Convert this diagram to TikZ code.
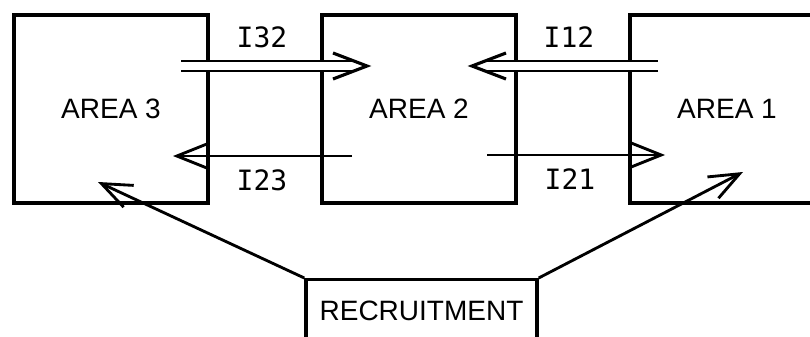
\documentclass[tikz,border=0pt]{standalone}
\usepackage{fontspec}
\setmainfont{Liberation Sans}
\newfontfamily\flowfont{DejaVu Sans Mono}
\usetikzlibrary{arrows.meta}

\begin{document}
\begin{tikzpicture}[x=0.5pt,y=-0.5pt,
		area/.style={draw, line width=0.6mm, minimum width=97pt, minimum height=94pt, inner sep=0pt, font=\fontsize{14}{16}\selectfont},
		flowlab/.style={font=\flowfont\fontsize{14}{16}\selectfont},
		single/.style={line width=0.5mm, -{Straight Barb[length=15pt,width=12pt,line width=0.5mm]}},
		twin/.style={double, line width=0.4mm, double distance=4pt, shorten >=7.5pt},
		twinhead/.style={line width=0.55mm, line join=miter}]
			%%%%% START %%%%%
			
			\useasboundingbox (0, 0) rectangle (810, 337);
			
			\node[area] (area3) at (111, 109) {AREA 3};
			\node[area] (area2) at (419, 109) {AREA 2};
			\node[area] (area1) at (727, 109) {AREA 1};
			
			\node[draw, line width=0.6mm, anchor=north, minimum width=115.5pt, inner xsep=0pt, inner ysep=10.5pt,
				text height=10pt, text depth=40pt, font=\fontsize{14}{16}\selectfont] (recruit) at (421.5, 278) {RECRUITMENT};
			
			\coordinate (i32a) at (181, 66);
			\coordinate (i32b) at (367, 66);
			\coordinate (i12a) at (658, 66);
			\coordinate (i12b) at (472, 66);
			\coordinate (i23a) at (352, 156);
			\coordinate (i23b) at (173, 156);
			\coordinate (i21a) at (487, 155);
			\coordinate (i21b) at (665, 155);
			\coordinate (tip3) at (98, 182);
			\coordinate (tip1) at (743, 172);
			
			% hollow heads of the double arrows
			\draw[twinhead] (i32b) ++(-34, -13) -- (i32b) -- ++(-34, 13);
			\draw[twinhead] (i12b) ++(34, -13) -- (i12b) -- ++(34, 13);
			\draw[twin] (i32a) -- (i32b);
			\draw[twin] (i12a) -- (i12b);
			
			\draw[single] (i23a) -- (i23b);
			\draw[single] (i21a) -- (i21b);
			
			\node[flowlab] (l32) at (262, 37) {I32};
			\node[flowlab] (l12) at (569, 37) {I12};
			\node[flowlab] (l23) at (262, 180) {I23};
			\node[flowlab] (l21) at (570, 179) {I21};
			
			\draw[single] (recruit.north west) -- (tip3);
			\draw[single] (recruit.north east) -- (tip1);
			
			%%%%% END %%%%%
		\end{tikzpicture}
\end{document}
